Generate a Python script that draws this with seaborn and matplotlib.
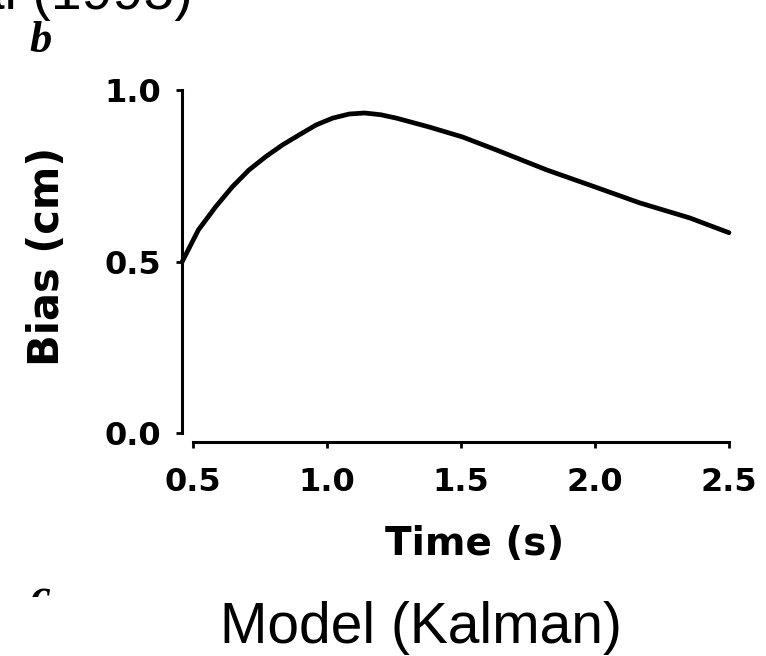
import numpy as np
import pandas as pd
import matplotlib
matplotlib.use('Agg')
import matplotlib.pyplot as plt
from matplotlib.patches import Rectangle
import seaborn as sns

# curve (time in s, bias in cm)
time = [0.46, 0.52, 0.585, 0.647, 0.709, 0.772, 0.834, 0.896, 0.959, 1.021,
        1.083, 1.14, 1.2, 1.259, 1.382, 1.506, 1.633, 1.82, 1.98, 2.167, 2.354, 2.5]
bias = [0.50, 0.592, 0.66, 0.718, 0.767, 0.806, 0.84, 0.869, 0.898, 0.918,
        0.930, 0.933, 0.928, 0.918, 0.892, 0.863, 0.825, 0.767, 0.723, 0.671, 0.627, 0.584]

xticks = [0.5, 1.0, 1.5, 2.0, 2.5]
yticks = [0.0, 0.5, 1.0]

sns.set_style('ticks')
plt.rcParams['font.family'] = ['DejaVu Sans']
for key in ['text.color', 'axes.labelcolor', 'axes.edgecolor',
            'xtick.color', 'ytick.color']:
    plt.rcParams[key] = 'black'

df = pd.DataFrame({'time': time, 'bias': bias})

fig = plt.figure(figsize=(7.66, 6.56), dpi=100)
ax = fig.add_axes([0.2376, 0.3262, 0.7141, 0.5366])

sns.lineplot(data=df, x='time', y='bias', color='black', linewidth=3.4, ax=ax,
             clip_on=False)

ax.set_xlim(0.459, 2.5)
ax.set_ylim(-0.026, 1.0)
ax.set_xticks(xticks)
ax.set_yticks(yticks)
ax.set_xticklabels(['%.1f' % t for t in xticks], fontsize=23, fontweight='bold')
ax.set_yticklabels(['%.1f' % t for t in yticks], fontsize=23, fontweight='bold')
ax.tick_params(axis='both', direction='out', length=4, width=2, color='black')
ax.tick_params(axis='x', pad=14)
ax.tick_params(axis='y', pad=11)

for s in ['top', 'right']:
    ax.spines[s].set_visible(False)
ax.spines['left'].set_bounds(0, 1)
ax.spines['bottom'].set_bounds(0.5, 2.5)
ax.spines['left'].set_linewidth(2.2)
ax.spines['bottom'].set_linewidth(2.2)

ax.set_xlabel('Time (s)', fontsize=28, fontweight='bold')
ax.set_ylabel('Bias (cm)', fontsize=30, fontweight='bold')
ax.xaxis.set_label_coords(0.5357, -0.235)
ax.yaxis.set_label_coords(-0.208, 0.527)

# panel letters
fig.text(0.039, 0.9207, 'b', fontsize=32, fontweight='bold', style='italic',
         family='Liberation Serif')
fig.text(0.039, 0.0716, 'c', fontsize=32, fontweight='bold', style='italic',
         family='Liberation Serif', zorder=1)
fig.patches.append(Rectangle((0, 0), 0.27, 0.09, transform=fig.transFigure,
                             facecolor='white', edgecolor='none', zorder=2))

# overlaid captions
fig.text(0.252, 0.9863, 'Wolpert et al (1995)', fontsize=40, ha='right',
         va='baseline', family='Liberation Sans')
fig.text(0.2872, 0.0198, 'Model (Kalman)', fontsize=41, ha='left',
         va='baseline', family='Liberation Sans', zorder=3)

fig.savefig('out.png', dpi=100)
